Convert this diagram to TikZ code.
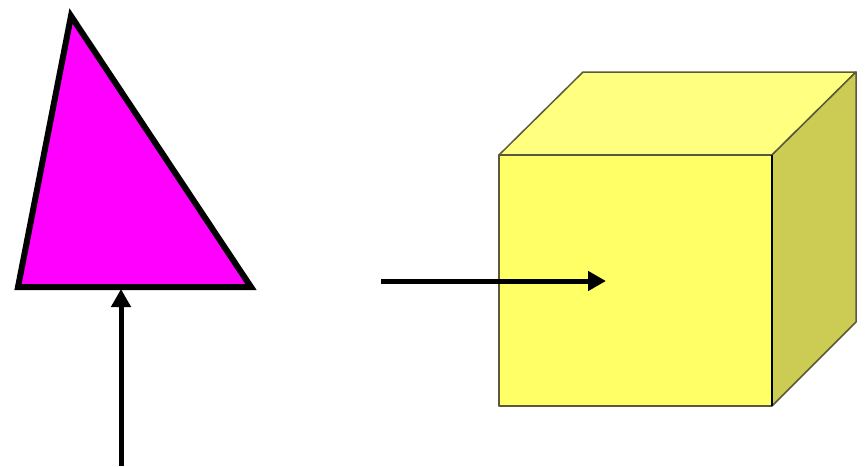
\documentclass[tikz,border=0pt]{standalone}
\usetikzlibrary{arrows.meta}
\definecolor{magentafill}{HTML}{FF00FF}
\definecolor{frontface}{HTML}{FFFF66}
\definecolor{topface}{HTML}{FFFF80}
\definecolor{sideface}{HTML}{CCCC55}
\definecolor{cubeedge}{HTML}{5A5A3A}
\tikzset{
  every path/.style={line join=miter},
  pointer/.style={line width=5pt, -{Triangle[length=18pt,width=19pt]}},
  cubeface/.style={draw=cubeedge, line width=1.5pt, line join=round}
}

\begin{document}
\begin{tikzpicture}[x=1pt,y=-1pt]
    \useasboundingbox (0,0) rectangle (865,466);

    % triangle
    \coordinate (apex) at (71,16);
    \coordinate (tl) at (18,287);
    \coordinate (tr) at (251,287);
    \draw[fill=magentafill, line width=6pt] (apex) -- (tl) -- (tr) -- cycle;

    % cube
    \coordinate (fa) at (499,155);
    \coordinate (fb) at (772,155);
    \coordinate (fc) at (772,406);
    \coordinate (fd) at (499,406);
    \coordinate (ba) at (583,72);
    \coordinate (bb) at (856,72);
    \coordinate (bc) at (856,322);
    \fill[frontface] (fa) -- (fb) -- (fc) -- (fd) -- cycle;
    \draw[cubeface, fill=topface] (fa) -- (ba) -- (bb) -- (fb) -- cycle;
    \draw[cubeface, fill=sideface] (fb) -- (bb) -- (bc) -- (fc) -- cycle;
    \draw[cubeface] (fb) -- (fa) -- (fd) -- (fc);
    \draw[line width=1.6pt] (fb) -- (fc);

    % arrows
    \coordinate (up tail) at (121,466);
    \coordinate (up head) at (121,289);
    \draw[pointer] (up tail) -- (up head);

    \coordinate (right tail) at (381,281);
    \coordinate (right head) at (606,281);
    \draw[pointer] (right tail) -- (right head);
\end{tikzpicture}
\end{document}
